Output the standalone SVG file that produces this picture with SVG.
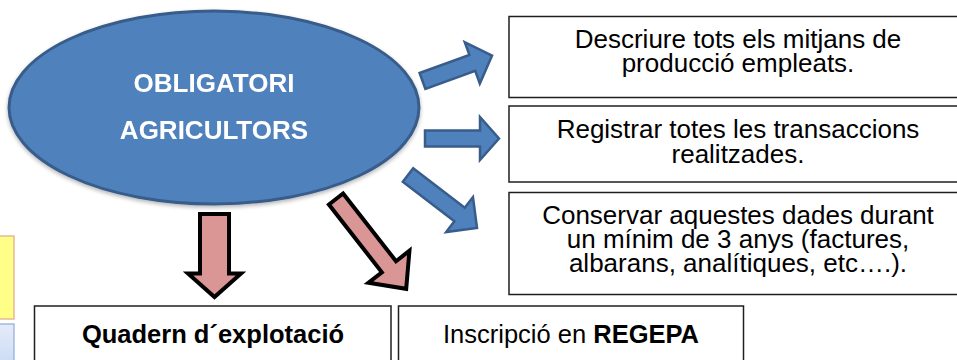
<svg xmlns="http://www.w3.org/2000/svg" width="957" height="360" viewBox="0 0 957 360">
<style>
.box{fill:#fff;stroke:#1f1f1f;stroke-width:1.5}
.t{font-family:"Liberation Sans",Arial,sans-serif;font-size:26px;fill:#000;text-anchor:middle}
.tb{font-family:"Liberation Sans",Arial,sans-serif;font-size:25.5px;fill:#000;text-anchor:middle}
.wt{font-family:"Liberation Sans",Arial,sans-serif;font-size:26px;font-weight:bold;fill:#fff;text-anchor:middle}
.barrow{fill:#4F81BD;stroke:#385D8A;stroke-width:2.5;stroke-linejoin:miter}
.parrow{fill:#D99694;stroke:#000;stroke-width:4;stroke-linejoin:miter}
</style>
<defs>
<linearGradient id="lb" x1="0" y1="0" x2="0" y2="1"><stop offset="0" stop-color="#E4ECFA"/><stop offset="1" stop-color="#C9D9F2"/></linearGradient>
<filter id="sh" x="-10%" y="-10%" width="120%" height="130%"><feGaussianBlur in="SourceAlpha" stdDeviation="2"/><feOffset dy="2"/><feComponentTransfer><feFuncA type="linear" slope="0.3"/></feComponentTransfer><feMerge><feMergeNode/><feMergeNode in="SourceGraphic"/></feMerge></filter>
</defs>
<rect width="957" height="360" fill="#fff"/>

<g id="side-yellow"><rect x="-5" y="236" width="19" height="83" fill="#FFFF88" stroke="#E3A58C" stroke-width="1.2"/></g>
<g id="side-blue"><rect x="-5" y="324" width="19" height="45" fill="url(#lb)" stroke="#8EAADB" stroke-width="1.2"/></g>

<g id="node-obligatori" filter="url(#sh)">
<ellipse cx="214" cy="107.5" rx="205" ry="96.5" fill="#4F81BD" stroke="#385D8A" stroke-width="3"/>
<text class="wt" x="214" y="92">OBLIGATORI</text>
<text class="wt" x="214" y="139">AGRICULTORS</text>
</g>

<g id="connectors">
<path class="barrow" transform="translate(422.5,81) rotate(-20)" d="M0,-8.5 L53,-8.5 L53,-22 L74,0 L53,22 L53,8.5 L0,8.5 Z"/>
<path class="barrow" transform="translate(425,138.5)" d="M0,-8 L55,-8 L55,-21.5 L74,0 L55,21.5 L55,8 L0,8 Z"/>
<path class="barrow" transform="translate(408,175) rotate(37.5)" d="M0,-8.5 L65,-8.5 L65,-22 L87,0 L65,22 L65,8.5 L0,8.5 Z"/>
<path class="parrow" d="M200,214 H229 V273.5 H241 L214.5,297 L188,273.5 H200 Z"/>
<path class="parrow" transform="translate(336,199) rotate(52)" d="M0,-9 L86,-9 L86,-26 L114,0 L86,26 L86,9 L0,9 Z"/>
</g>

<g id="node-descriure">
<rect class="box" x="509" y="16.5" width="460" height="81"/>
<text class="t" x="738" y="48">Descriure tots els mitjans de</text>
<text class="t" x="738" y="72">producció empleats.</text>
</g>
<g id="node-registrar">
<rect class="box" x="509" y="106" width="460" height="76"/>
<text class="t" x="738" y="138">Registrar totes les transaccions</text>
<text class="t" x="738" y="163">realitzades.</text>
</g>
<g id="node-conservar">
<rect class="box" x="509" y="192.5" width="460" height="102"/>
<text class="t" x="738" y="224">Conservar aquestes dades durant</text>
<text class="t" x="738" y="248">un mínim de 3 anys (factures,</text>
<text class="t" x="738" y="272">albarans, analítiques, etc….).</text>
</g>

<g id="node-quadern">
<rect class="box" x="34.5" y="306" width="356.5" height="70"/>
<text class="tb" x="213" y="342.5" font-weight="bold">Quadern d´explotació</text>
</g>
<g id="node-regepa">
<rect class="box" x="398.5" y="306" width="345" height="70"/>
<text class="tb" x="571" y="342.5">Inscripció en <tspan font-weight="bold">REGEPA</tspan></text>
</g>
</svg>
